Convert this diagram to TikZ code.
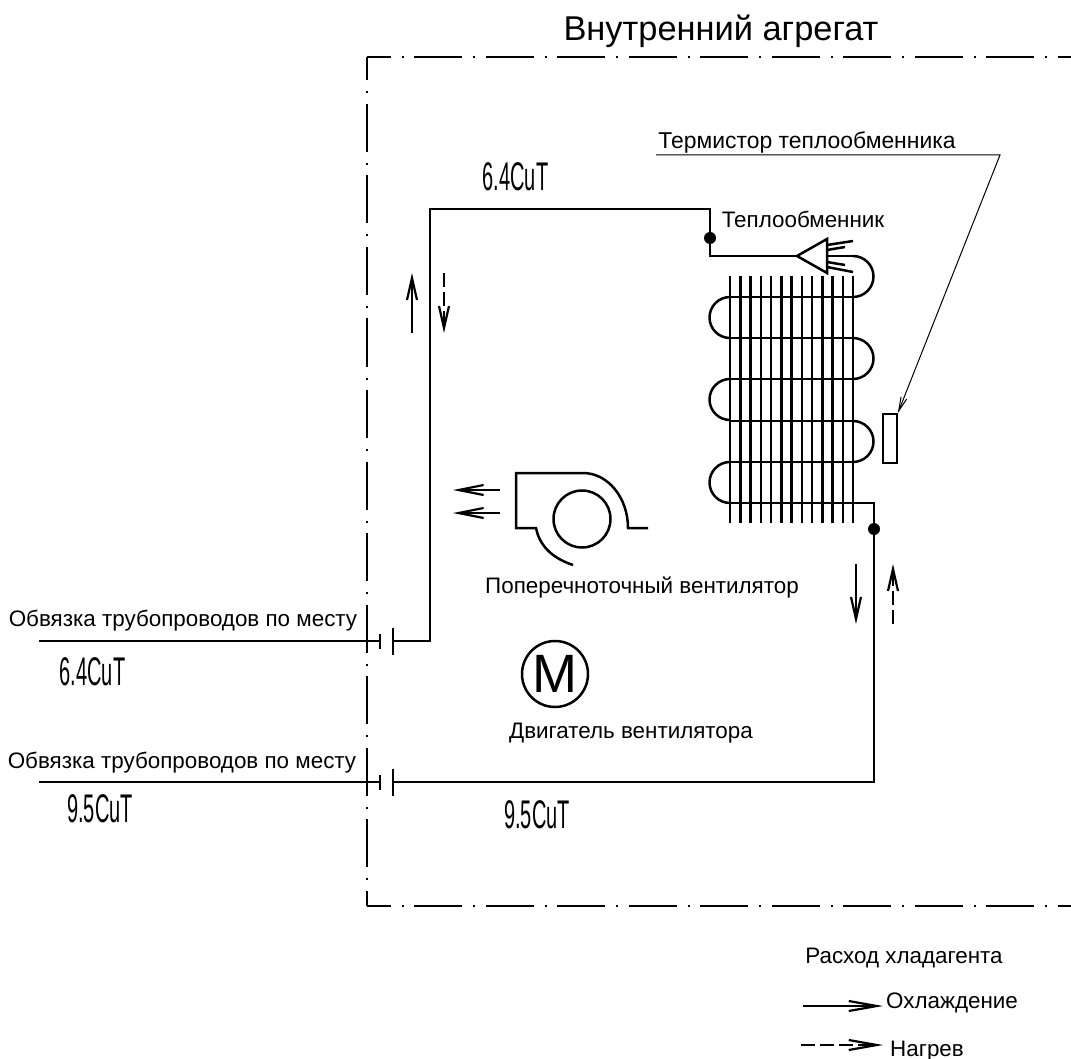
\documentclass[tikz,border=0pt]{standalone}
\usepackage{fontspec}
\setmainfont{Liberation Sans}
\usetikzlibrary{arrows.meta}
\tikzset{
    pipe/.style={line width=2.5pt},
    thinline/.style={line width=1pt},
    frameline/.style={line width=2pt, dash pattern=on 48pt off 11pt on 2pt off 10.5pt, dash phase=24.5pt},
    flow/.style={line width=2.2pt, -{Straight Barb[length=#1, width=10pt, line width=2.2pt]}},
    flow/.default=22pt,
    heatdash/.style={dash pattern=on 14pt off 5pt},
    smalltxt/.style={font=\fontsize{22.4}{24}\selectfont},
    bigtxt/.style={font=\fontsize{34.4}{36}\selectfont},
    sizetxt/.style={font=\fontsize{40}{42}\selectfont, xscale=0.5},
    joint/.style={circle, fill=black, minimum size=12pt}
}
\begin{document}
\begin{tikzpicture}[x=1pt, y=-1pt, every node/.style={inner sep=0pt}]
    \useasboundingbox (0,0) rectangle (1071,1059);
    % unit boundary
    \coordinate (boxnw) at (367,57);
    \coordinate (boxne) at (1071,57);
    \coordinate (boxsw) at (367,906);
    \coordinate (boxse) at (1071,906);
    \draw [frameline] (boxnw) -- (boxne);
    \draw [frameline] (boxnw) -- (boxsw);
    \draw [frameline] (boxsw) -- (boxse);
    \node (title) [bigtxt] at (721,31) {Внутренний агрегат};

    % coil
    \foreach \i in {0,...,12} {
        \draw [pipe] (730+\i*10.25,276) -- ++(0,247);
    }
    \foreach \y in {297,338,379,421,462,503} {
        \draw [pipe] (730,\y) -- (853,\y);
    }
    \foreach \y in {297,379,462} {
        \draw [pipe] (730,\y) arc[start angle=270, end angle=90, radius=20.5];
    }
    \foreach \y in {256,338,421} {
        \draw [pipe] (853,\y) arc[start angle=-90, end angle=90, radius=20.5];
    }

    % distributor
    \coordinate (tip) at (797,256);
    \coordinate (dtop) at (827,239);
    \coordinate (dbot) at (827,273);
    \draw [pipe] (tip) -- (dtop) -- (dbot) -- cycle;
    \draw [pipe] (827,256) -- (853,256);
    \foreach \a/\b/\c in {245/853/241,250/845/247,262/845/265,267/853/272} {
        \draw [pipe] (827,\a) -- (\b,\c);
    }

    % pipes
    \coordinate (flareA) at (393,641);
    \coordinate (flareB) at (393,782);
    \coordinate (coilout) at (853,503);
    \coordinate (cornerA) at (430,641);
    \coordinate (cornerB) at (430,209);
    \coordinate (cornerC) at (710,209);
    \coordinate (cornerD) at (710,256);
    \coordinate (cornerE) at (874,503);
    \coordinate (cornerF) at (874,782);
    \draw [pipe] (flareA) -- (cornerA) -- (cornerB) -- (cornerC) -- (cornerD) -- (tip);
    \draw [pipe] (coilout) -- (cornerE) -- (cornerF) -- (flareB);
    \node (jointA) [joint] at (710,238) {};
    \node (jointB) [joint] at (874,529) {};

    % field connections
    \foreach \y/\n in {641/A,782/B} {
        \coordinate (field\n) at (39,\y);
        \coordinate (end\n) at (380,\y);
        \draw [pipe] (field\n) -- (end\n);
        \draw [pipe] (380,\y-7.5) -- (380,\y+7.5);
        \draw [pipe] (393,\y-13.5) -- (393,\y+13.5);
    }

    % fan
    \draw [pipe] (648,528) -- (628,528) arc[start angle=0, end angle=-90, x radius=45, y radius=55]
        -- (516,473) -- (516,528) -- (536,528) .. controls (540,548) and (555,559) .. (573,565);
    \node (wheel) [draw, pipe, circle, minimum size=57pt] at (582,519) {};
    \foreach \y/\n in {490/A,513/B} {
        \coordinate (airs\n) at (500,\y);
        \coordinate (aire\n) at (453,\y);
        \draw [flow=25pt] (airs\n) -- (aire\n);
    }
    \node (fantxt) [smalltxt] at (642,588) {Поперечноточный вентилятор};

    % motor
    \node (motor) [draw, pipe, circle, minimum size=66pt, font=\fontsize{54}{56}\selectfont] at (555,674) {M};
    \node (motortxt) [smalltxt] at (631,733) {Двигатель вентилятора};

    % flow directions
    \coordinate (upa) at (412,333);
    \coordinate (upb) at (412,273);
    \coordinate (dna) at (444,273);
    \coordinate (dnb) at (444,333);
    \coordinate (rda) at (856,564);
    \coordinate (rdb) at (856,624);
    \coordinate (rua) at (893,624);
    \coordinate (rub) at (893,564);
    \draw [flow] (upa) -- (upb);
    \draw [flow, heatdash] (dna) -- (dnb);
    \draw [flow] (rda) -- (rdb);
    \draw [flow, heatdash] (rua) -- (rub);

    % thermistor
    \node (sensor) [draw, line width=1.6pt, minimum width=14pt, minimum height=49pt] at (890,438.5) {};
    \coordinate (leadl) at (656,155);
    \coordinate (leadr) at (1000,155);
    \draw [thinline, -{Straight Barb[length=14pt, width=6pt]}] (leadl) -- (leadr) -- (sensor.north east);
    \node (sensortxt) [font=\fontsize{22.9}{24}\selectfont] at (807,142) {Термистор теплообменника};
    \node (coiltxt) [smalltxt] at (803,219) {Теплообменник};

    % labels
    \node (fieldtxtA) [smalltxt] at (183,621) {Обвязка трубопроводов по месту};
    \node (fieldtxtB) [smalltxt] at (182,763) {Обвязка трубопроводов по месту};
    \node (sizea) [sizetxt] at (515.5,177) {6.4CuT};
    \node (sizeb) [sizetxt] at (92.5,671.5) {6.4CuT};
    \node (sizec) [sizetxt] at (100,809) {9.5CuT};
    \node (sized) [sizetxt] at (537,815) {9.5CuT};

    % legend
    \node (legend) [smalltxt] at (904,958) {Расход хладагента};
    \coordinate (cools) at (803,1006);
    \coordinate (coole) at (883,1006);
    \coordinate (heats) at (801,1045);
    \coordinate (heate) at (883,1045);
    \draw [flow=28pt] (cools) -- (coole);
    \draw [flow=28pt, heatdash] (heats) -- (heate);
    \node (cooltxt) [smalltxt] at (952,1003) {Охлаждение};
    \node (heattxt) [smalltxt] at (927,1051) {Нагрев};
\end{tikzpicture}
\end{document}
